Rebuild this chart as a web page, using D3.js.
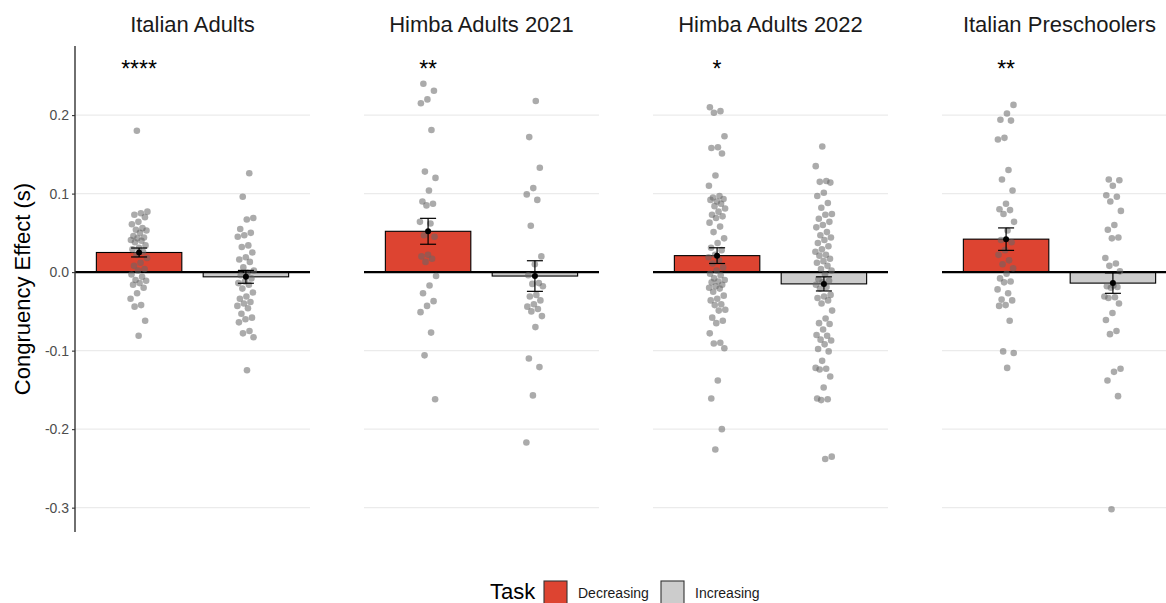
<!DOCTYPE html>
<html>
<head>
<meta charset="utf-8">
<script src="https://cdn.jsdelivr.net/npm/d3@7"></script>
<style>
  body { margin: 0; background: #fff; }
  svg { display: block; font-family: "Liberation Sans", Arial, sans-serif; }
</style>
</head>
<body>
<svg id="chart" width="1166" height="603"></svg>
<script>
// Groups and tasks
const facets = ["Italian Adults", "Himba Adults 2021", "Himba Adults 2022", "Italian Preschoolers"];
const tasks = ["Decreasing", "Increasing"];
const taskColors = ["#dd4431", "#cccccc"];

// Group means and standard errors (s), per facet: [Decreasing, Increasing]
const meanEffect = [[0.025, -0.006], [0.052, -0.005], [0.021, -0.015], [0.042, -0.014]];
const seEffect = [[0.0057, 0.0082], [0.0165, 0.0195], [0.010, 0.009], [0.0143, 0.013]];
const significance = ["****", "**", "*", "**"];
const yTicks = [-0.3, -0.2, -0.1, 0.0, 0.1, 0.2];

// Individual participants' congruency effects (s)
const italianAdultsDec = [0.180, 0.077, 0.075, 0.073, 0.070, 0.064, 0.061, 0.056, 0.054, 0.053, 0.050, 0.046, 0.044, 0.043, 0.041, 0.040, 0.038, 0.034, 0.031, 0.029, 0.026, 0.022, 0.018, 0.012, 0.008, 0.004, 0.002, -0.003, -0.006, -0.010, -0.011, -0.014, -0.016, -0.020, -0.027, -0.034, -0.042, -0.044, -0.062, -0.081];
const italianAdultsInc = [0.126, 0.096, 0.069, 0.067, 0.055, 0.050, 0.047, 0.045, 0.034, 0.032, 0.025, 0.019, 0.016, 0.013, 0.006, 0.002, -0.001, -0.004, -0.008, -0.012, -0.014, -0.016, -0.021, -0.026, -0.031, -0.034, -0.038, -0.040, -0.043, -0.046, -0.053, -0.058, -0.060, -0.064, -0.075, -0.078, -0.083, -0.125];
const himba2021Dec = [0.240, 0.231, 0.220, 0.215, 0.181, 0.128, 0.120, 0.104, 0.090, 0.087, 0.085, 0.064, 0.062, 0.047, 0.045, 0.022, 0.020, 0.017, 0.013, -0.005, -0.017, -0.027, -0.037, -0.043, -0.051, -0.077, -0.106, -0.162];
const himba2021Inc = [0.218, 0.172, 0.133, 0.107, 0.099, 0.092, 0.059, 0.020, 0.010, -0.004, -0.014, -0.015, -0.018, -0.029, -0.031, -0.036, -0.041, -0.044, -0.047, -0.050, -0.056, -0.070, -0.110, -0.121, -0.157, -0.217];
const himba2022Dec = [0.210, 0.205, 0.203, 0.173, 0.159, 0.158, 0.151, 0.123, 0.110, 0.097, 0.095, 0.093, 0.090, 0.092, 0.087, 0.084, 0.081, 0.077, 0.073, 0.071, 0.069, 0.063, 0.058, 0.051, 0.043, 0.037, 0.031, 0.028, 0.022, 0.019, 0.015, 0.011, 0.006, 0.002, -0.002, -0.004, -0.008, -0.010, -0.012, -0.013, -0.016, -0.018, -0.020, -0.021, -0.025, -0.030, -0.034, -0.036, -0.041, -0.042, -0.048, -0.049, -0.058, -0.062, -0.065, -0.078, -0.090, -0.091, -0.097, -0.138, -0.161, -0.200, -0.226];
const himba2022Inc = [0.160, 0.135, 0.116, 0.115, 0.114, 0.101, 0.097, 0.088, 0.082, 0.074, 0.073, 0.068, 0.064, 0.060, 0.057, 0.051, 0.047, 0.044, 0.041, 0.037, 0.033, 0.029, 0.026, 0.022, 0.021, 0.017, 0.014, 0.012, 0.008, 0.004, 0.002, -0.003, -0.009, -0.011, -0.013, -0.016, -0.019, -0.021, -0.029, -0.031, -0.033, -0.036, -0.040, -0.049, -0.059, -0.065, -0.066, -0.073, -0.080, -0.081, -0.086, -0.087, -0.092, -0.098, -0.101, -0.113, -0.122, -0.123, -0.124, -0.133, -0.147, -0.161, -0.162, -0.163, -0.235, -0.238];
const preschoolDec = [0.213, 0.202, 0.194, 0.193, 0.171, 0.169, 0.130, 0.118, 0.104, 0.087, 0.080, 0.079, 0.074, 0.064, 0.053, 0.041, 0.038, 0.028, 0.022, 0.015, 0.010, 0.005, -0.002, -0.008, -0.012, -0.013, -0.022, -0.027, -0.035, -0.036, -0.042, -0.043, -0.062, -0.101, -0.103, -0.122];
const preschoolInc = [0.118, 0.117, 0.110, 0.098, 0.096, 0.090, 0.078, 0.060, 0.054, 0.044, 0.043, 0.018, 0.011, 0.008, 0.001, -0.017, -0.018, -0.019, -0.020, -0.031, -0.032, -0.033, -0.040, -0.052, -0.061, -0.075, -0.079, -0.123, -0.127, -0.138, -0.158, -0.302];

const participants = [
  [italianAdultsDec, italianAdultsInc],
  [himba2021Dec, himba2021Inc],
  [himba2022Dec, himba2022Inc],
  [preschoolDec, preschoolInc]
];

const svg = d3.select("#chart");
const plotTop = 46, plotBottom = 532;

const y = d3.scaleLinear().domain([-0.331, 0.288]).range([plotBottom, plotTop]);
const fx = d3.scaleBand().domain(facets).range([75, 1177]).paddingInner(54 / 289);

// Horizontal offsets for the jittered points (deterministic, low-discrepancy)
const jitter = i => ((i * 0.6180339887 + 0.37) % 1) - 0.5;

facets.forEach((facet, fi) => {
  const left = fx(facet);
  const w = fx.bandwidth();
  const g = svg.append("g");
  const x = d3.scaleBand().domain(tasks).range([left, left + w]).paddingInner(0.2).paddingOuter(0.2);

  // grid
  g.selectAll("line.grid").data(yTicks).join("line")
    .attr("x1", left).attr("x2", left + w)
    .attr("y1", d => y(d)).attr("y2", d => y(d))
    .attr("stroke", "#ebebeb").attr("stroke-width", 1.1);

  // facet title
  g.append("text")
    .attr("x", left + w / 2).attr("y", 32)
    .attr("text-anchor", "middle")
    .attr("font-size", 22).attr("fill", "#1a1a1a")
    .text(facet);

  // bars
  tasks.forEach((t, ti) => {
    const m = meanEffect[fi][ti];
    g.append("rect")
      .attr("x", x(t)).attr("width", x.bandwidth())
      .attr("y", Math.min(y(m), y(0)))
      .attr("height", Math.abs(y(m) - y(0)))
      .attr("fill", taskColors[ti])
      .attr("stroke", "#000").attr("stroke-width", 1.1);
  });

  // zero reference line
  g.append("line")
    .attr("x1", left).attr("x2", left + w)
    .attr("y1", y(0)).attr("y2", y(0))
    .attr("stroke", "#000").attr("stroke-width", 2.2);

  // participants
  tasks.forEach((t, ti) => {
    const cx = x(t) + x.bandwidth() / 2;
    const jw = x.step() * 0.16;
    g.selectAll(null).data(participants[fi][ti]).join("circle")
      .attr("cx", (d, i) => cx + jitter(i + ti * 7 + fi * 3) * jw)
      .attr("cy", d => y(d))
      .attr("r", 3.3)
      .attr("fill", "#666")
      .attr("fill-opacity", 0.55);
  });

  // error bars and means
  tasks.forEach((t, ti) => {
    const cx = x(t) + x.bandwidth() / 2;
    const m = meanEffect[fi][ti], se = seEffect[fi][ti];
    const cap = x.step() * 0.075;
    const eb = g.append("g").attr("stroke", "#000").attr("stroke-width", 1.2);
    eb.append("line").attr("x1", cx).attr("x2", cx).attr("y1", y(m + se)).attr("y2", y(m - se));
    eb.append("line").attr("x1", cx - cap).attr("x2", cx + cap).attr("y1", y(m + se)).attr("y2", y(m + se));
    eb.append("line").attr("x1", cx - cap).attr("x2", cx + cap).attr("y1", y(m - se)).attr("y2", y(m - se));
    g.append("circle").attr("cx", cx).attr("cy", y(m)).attr("r", 3).attr("fill", "#000");
  });

  // significance marker above the Decreasing bar
  g.append("text")
    .attr("x", x(tasks[0]) + x.bandwidth() / 2)
    .attr("y", y(0.265) + 13)
    .attr("text-anchor", "middle")
    .attr("font-size", 23).attr("fill", "#000")
    .text(significance[fi]);
});

// y axis (first panel only)
const yAxis = d3.axisLeft(y).tickValues(yTicks).tickSize(3).tickPadding(3).tickFormat(d => d.toFixed(1));
const ax = svg.append("g").attr("transform", "translate(75,0)").call(yAxis);
ax.select(".domain").remove();
ax.append("line").attr("x1", 0).attr("x2", 0).attr("y1", plotTop).attr("y2", plotBottom)
  .attr("stroke", "#333").attr("stroke-width", 1.4);
ax.selectAll(".tick line").attr("stroke", "#333").attr("stroke-width", 1.1);
ax.selectAll(".tick text").attr("font-size", 14).attr("fill", "#4d4d4d")
  .attr("font-family", "Liberation Sans, Arial, sans-serif");

svg.append("text")
  .attr("transform", `translate(30,${(plotTop + plotBottom) / 2}) rotate(-90)`)
  .attr("text-anchor", "middle")
  .attr("font-size", 22).attr("fill", "#000")
  .text("Congruency Effect (s)");

// legend
const lg = svg.append("g");
lg.append("text").attr("x", 490).attr("y", 599).attr("font-size", 22).attr("fill", "#000").text("Task");
const keyX = [544, 661];
tasks.forEach((t, ti) => {
  lg.append("rect").attr("x", keyX[ti]).attr("y", 581).attr("width", 23).attr("height", 23)
    .attr("fill", taskColors[ti]).attr("stroke", "#333").attr("stroke-width", 1.1);
  lg.append("text").attr("x", keyX[ti] + 34).attr("y", 598)
    .attr("font-size", 14).attr("fill", "#1a1a1a").text(t);
});
</script>
</body>
</html>
